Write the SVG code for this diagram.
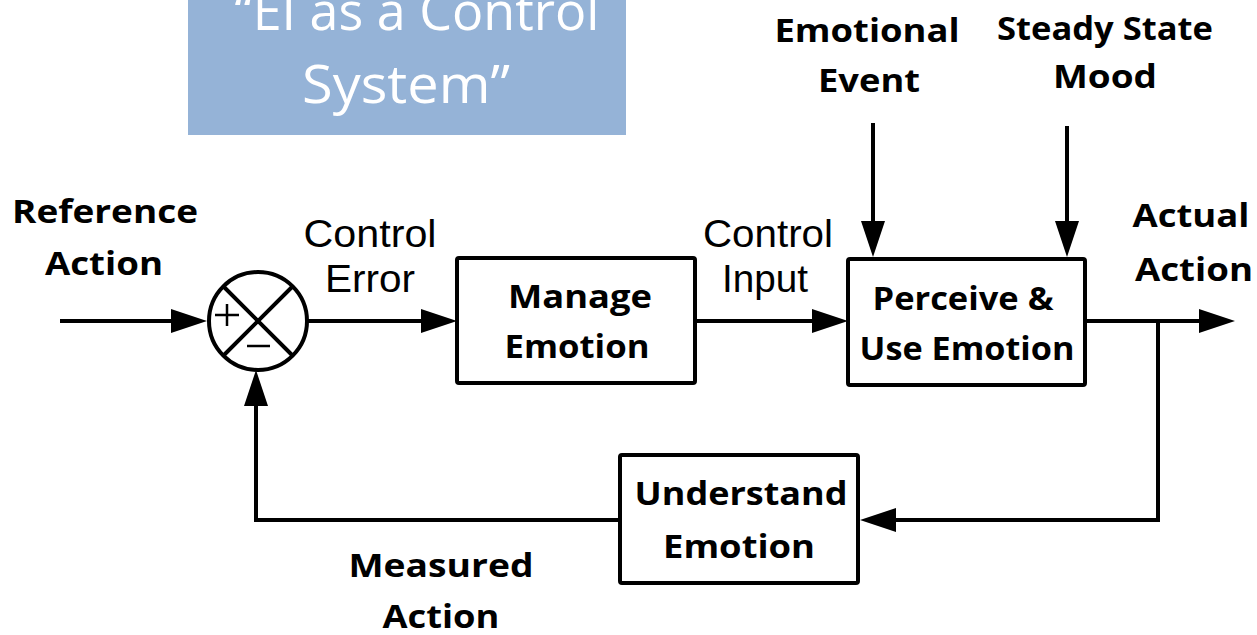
<svg xmlns="http://www.w3.org/2000/svg" width="1257" height="635" viewBox="0 0 1257 635">
<style>
.lbl{font-family:"Open Sans","Liberation Sans",sans-serif;font-weight:bold;font-size:33px;fill:#000;text-anchor:middle}
.reg{font-family:"Liberation Sans",Arial,sans-serif;font-size:38px;fill:#000;text-anchor:middle}
.title{font-family:"Open Sans","Liberation Sans",sans-serif;font-size:53px;fill:#fff;text-anchor:middle}
.box{fill:#fff;stroke:#000;stroke-width:4}
.wire{fill:none;stroke:#000;stroke-width:4}
</style>
<defs>
<marker id="ah" markerUnits="userSpaceOnUse" markerWidth="36" markerHeight="24" refX="26" refY="12" orient="auto">
<path d="M0,0 L36,12 L0,24 z" fill="#000"/>
</marker>
</defs>
<rect width="1257" height="635" fill="#fff"/>
<g id="title">
<rect x="188" y="0" width="438" height="135" fill="#95B3D7"/>
<text class="title" x="417" y="30" textLength="365" lengthAdjust="spacingAndGlyphs">“EI as a Control</text>
<text class="title" x="406" y="103" textLength="208" lengthAdjust="spacingAndGlyphs">System”</text>
</g>
<g id="connectors">
<path class="wire" d="M60,321 H197" marker-end="url(#ah)"/>
<path class="wire" d="M308,321 H447" marker-end="url(#ah)"/>
<path class="wire" d="M695,321 H838" marker-end="url(#ah)"/>
<path class="wire" d="M1085,321 H1225" marker-end="url(#ah)"/>
<path class="wire" d="M1158,321 V520 H870" marker-end="url(#ah)"/>
<path class="wire" d="M620,520 H256 V380" marker-end="url(#ah)"/>
<path class="wire" d="M873,123 V247" marker-end="url(#ah)"/>
<path class="wire" d="M1067,126 V247" marker-end="url(#ah)"/>
</g>
<g id="sum">
<circle cx="258" cy="321" r="49" fill="#fff" stroke="#000" stroke-width="4"/>
<path class="wire" d="M223,286 L293,356 M293,286 L223,356"/>
<path d="M215,315 H239 M227,304 V326" stroke="#000" stroke-width="2.5" fill="none"/>
<path d="M247,346 H270" stroke="#000" stroke-width="2.5" fill="none"/>
</g>
<g id="manage">
<rect class="box" x="457" y="258" width="238" height="125" rx="2"/>
<text class="lbl" x="580" y="308" textLength="144" lengthAdjust="spacingAndGlyphs">Manage</text>
<text class="lbl" x="577" y="358" textLength="145" lengthAdjust="spacingAndGlyphs">Emotion</text>
</g>
<g id="perceive">
<rect class="box" x="848" y="259" width="237" height="126" rx="2"/>
<text class="lbl" x="963" y="310" textLength="181" lengthAdjust="spacingAndGlyphs">Perceive &amp;</text>
<text class="lbl" x="967" y="360" textLength="215" lengthAdjust="spacingAndGlyphs">Use Emotion</text>
</g>
<g id="understand">
<rect class="box" x="620" y="455" width="238" height="128" rx="2"/>
<text class="lbl" x="741" y="505" textLength="213" lengthAdjust="spacingAndGlyphs">Understand</text>
<text class="lbl" x="739" y="558" textLength="152" lengthAdjust="spacingAndGlyphs">Emotion</text>
</g>
<g id="labels">
<text class="lbl" x="105" y="223" textLength="186" lengthAdjust="spacingAndGlyphs">Reference</text>
<text class="lbl" x="104" y="275" textLength="118" lengthAdjust="spacingAndGlyphs">Action</text>
<text class="reg" x="370" y="247" textLength="133" lengthAdjust="spacingAndGlyphs">Control</text>
<text class="reg" x="370" y="292" textLength="90" lengthAdjust="spacingAndGlyphs">Error</text>
<text class="reg" x="768" y="247" textLength="130" lengthAdjust="spacingAndGlyphs">Control</text>
<text class="reg" x="765" y="292" textLength="86" lengthAdjust="spacingAndGlyphs">Input</text>
<text class="lbl" x="867" y="42" textLength="185" lengthAdjust="spacingAndGlyphs">Emotional</text>
<text class="lbl" x="869" y="92" textLength="102" lengthAdjust="spacingAndGlyphs">Event</text>
<text class="lbl" x="1105" y="40" textLength="216" lengthAdjust="spacingAndGlyphs">Steady State</text>
<text class="lbl" x="1105" y="88" textLength="104" lengthAdjust="spacingAndGlyphs">Mood</text>
<text class="lbl" x="1191" y="227" textLength="117" lengthAdjust="spacingAndGlyphs">Actual</text>
<text class="lbl" x="1194" y="281" textLength="118" lengthAdjust="spacingAndGlyphs">Action</text>
<text class="lbl" x="441" y="577" textLength="185" lengthAdjust="spacingAndGlyphs">Measured</text>
<text class="lbl" x="441" y="628" textLength="117" lengthAdjust="spacingAndGlyphs">Action</text>
</g>
</svg>
